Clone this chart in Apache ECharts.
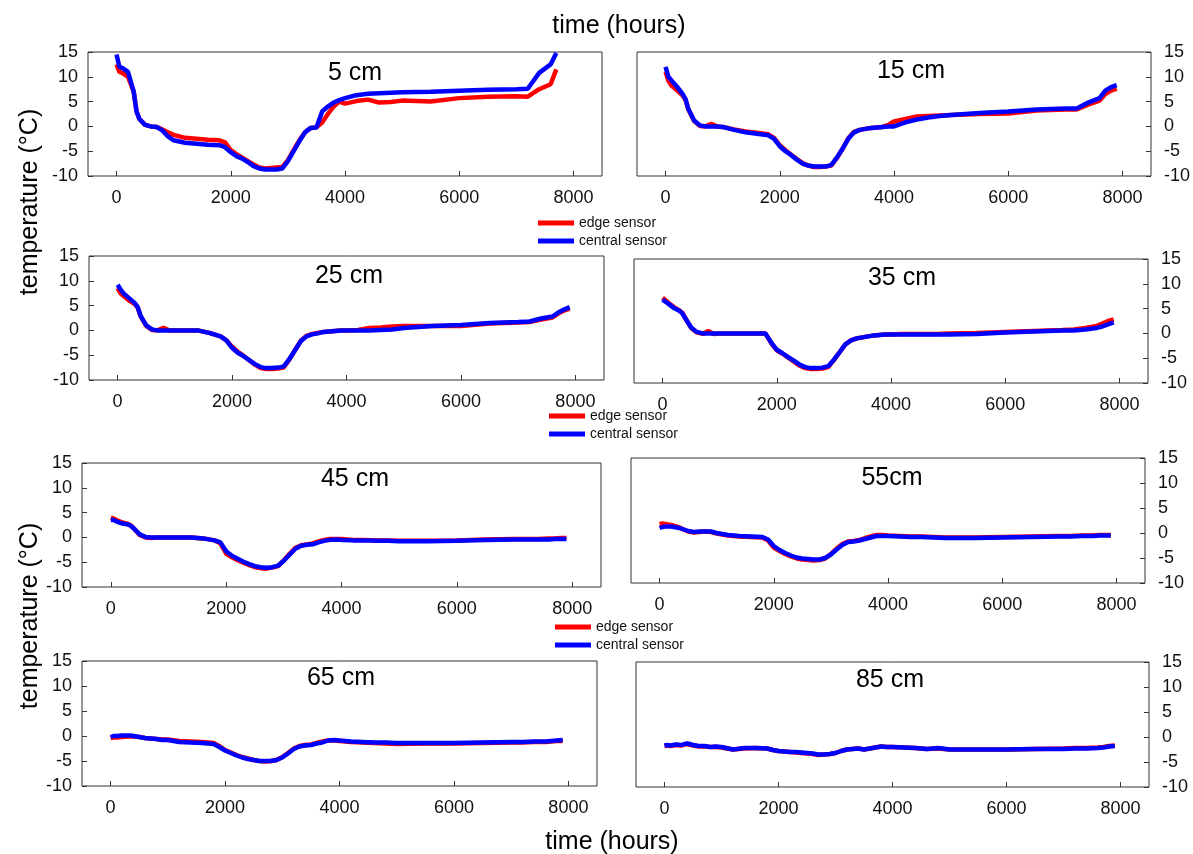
<!DOCTYPE html>
<html>
<head>
<meta charset="utf-8">
<script src="https://cdn.jsdelivr.net/npm/echarts@6.0.0/dist/echarts.min.js"></script>
<style>
html,body{margin:0;padding:0;background:#fff;}
#chart{width:1193px;height:854px;}
</style>
</head>
<body>
<div id="chart"></div>
<script>
// ---- data ----
const hours = [0,50,100,200,300,350,400,500,600,700,800,900,1000,1200,1400,1600,1800,1900,2000,2100,2200,2300,2400,2500,2600,2700,2800,2900,3000,3100,3200,3300,3400,3500,3600,3700,3800,3900,4000,4200,4400,4600,4800,5000,5500,6000,6500,7000,7200,7400,7600,7700,7800,7900];

const xTicks = [0, 2000, 4000, 6000, 8000];
const depthLabels = ['5 cm','15 cm','25 cm','35 cm','45 cm','55cm','65 cm','85 cm'];
const seriesNames = ['edge sensor','central sensor'];

const edge5 = [12.5,11,10.8,10,7,3,1.5,0.3,0,-0.1,-0.6,-1.2,-1.7,-2.3,-2.5,-2.7,-2.8,-3.2,-4.8,-5.6,-6.3,-7,-7.7,-8.3,-8.5,-8.4,-8.3,-8.2,-6.8,-4.8,-2.8,-1.2,-0.3,-0.2,0.8,2.5,4,5,4.6,5.1,5.4,4.8,4.9,5.2,5.0,5.7,6.0,6.1,6.0,7.5,8.5,11.5,null,null];
const central5 = [14.5,12,11.8,11,7,3,1.5,0.3,0,-0.1,-0.8,-2,-2.8,-3.3,-3.5,-3.7,-3.8,-4.2,-5.2,-6,-6.5,-7.2,-8,-8.5,-8.7,-8.7,-8.7,-8.5,-7,-5,-3,-1.2,-0.3,-0.2,3,4,4.8,5.3,5.7,6.3,6.6,6.7,6.8,6.9,7.0,7.2,7.4,7.5,7.6,10.8,12.5,14.8,null,null];

const edge15 = [11,9.2,8.3,7.3,6.2,5.3,3.4,1.1,0.1,0,0.5,0,-0.1,-0.6,-1.0,-1.3,-1.6,-2.3,-3.8,-4.8,-5.7,-6.6,-7.4,-7.9,-8.2,-8.2,-8.1,-7.9,-6.4,-4.5,-2.4,-1.1,-0.7,-0.5,-0.3,-0.2,-0.1,0.3,1.0,1.5,2.0,2.1,2.2,2.3,2.5,2.6,3.2,3.4,3.4,4.4,5.2,6.5,7.2,7.6];
const central15 = [12,10,9.3,8,6.5,5.5,3.5,1.2,0.2,0,0,0,-0.1,-0.7,-1.2,-1.5,-1.8,-2.5,-4,-5,-5.8,-6.7,-7.5,-7.9,-8.1,-8.1,-8.1,-7.8,-6.3,-4.5,-2.5,-1.2,-0.7,-0.5,-0.3,-0.2,-0.1,0,0,0.8,1.4,1.8,2.1,2.3,2.7,3.0,3.4,3.6,3.6,4.8,5.7,7.2,7.9,8.3];

const edge25 = [8.5,7.5,7,6,5.3,4.6,2.9,0.9,0.1,0,0.5,0,0,0,0,-0.5,-1.2,-2,-3.3,-4.3,-5.1,-6,-6.9,-7.6,-7.8,-7.8,-7.7,-7.5,-5.9,-4,-2.1,-1.1,-0.7,-0.5,-0.3,-0.2,-0.1,0,0,0.1,0.5,0.6,0.8,0.9,0.9,0.9,1.4,1.6,1.7,2.2,2.6,3.4,4.0,4.4];
const central25 = [9.2,8.3,7.5,6.5,5.5,4.7,3,1,0.2,0,0,0,0,0,0,-0.5,-1.2,-2,-3.5,-4.5,-5.2,-6,-6.8,-7.4,-7.6,-7.6,-7.5,-7.3,-5.8,-4,-2.2,-1.2,-0.8,-0.6,-0.3,-0.2,-0.1,0,0,0,0,0.1,0.2,0.5,0.9,1.1,1.5,1.7,1.8,2.4,2.8,3.6,4.2,4.7];

const edge35 = [7.2,6.7,6.2,5.3,4.6,4.1,3.1,1.1,0.2,-0.1,0.5,-0.1,0,0,0,0,0,-1.9,-3.4,-4.1,-4.9,-5.7,-6.5,-7,-7.2,-7.2,-7.1,-6.8,-5.4,-3.8,-2.2,-1.4,-1.0,-0.8,-0.6,-0.4,-0.3,-0.2,-0.2,-0.1,-0.1,-0.1,-0.1,0,0.1,0.3,0.5,0.7,0.8,1.1,1.5,2.0,2.5,2.8];
const central35 = [6.8,6.4,6,5.1,4.5,4,3,1.2,0.3,0,0,0,0,0,0,0,0,-1.8,-3.3,-4,-4.8,-5.5,-6.3,-6.8,-7,-7,-6.9,-6.6,-5.3,-3.8,-2.2,-1.4,-1.0,-0.8,-0.6,-0.4,-0.3,-0.2,-0.2,-0.2,-0.2,-0.2,-0.2,-0.2,-0.1,0.2,0.4,0.6,0.6,0.8,1.1,1.4,1.8,2.2];

const edge45 = [4.0,3.8,3.5,3.0,2.7,2.4,1.8,0.5,0,-0.1,0,0,0,0,0,-0.2,-0.6,-1.2,-3.3,-4.0,-4.6,-5.1,-5.6,-6.0,-6.2,-6.3,-6.1,-5.8,-4.6,-3.3,-2.1,-1.6,-1.4,-1.2,-0.8,-0.5,-0.3,-0.3,-0.3,-0.5,-0.5,-0.6,-0.6,-0.7,-0.7,-0.6,-0.4,-0.3,-0.3,-0.3,-0.2,-0.2,-0.1,-0.1];
const central45 = [3.5,3.5,3.2,2.8,2.6,2.3,1.8,0.6,0.1,0,0,0,0,0,0,-0.2,-0.6,-1,-2.8,-3.7,-4.3,-4.9,-5.4,-5.8,-6,-6.1,-6,-5.7,-4.7,-3.5,-2.3,-1.7,-1.5,-1.4,-1.0,-0.7,-0.5,-0.4,-0.5,-0.6,-0.6,-0.7,-0.7,-0.8,-0.8,-0.7,-0.5,-0.4,-0.4,-0.4,-0.4,-0.3,-0.3,-0.3];

const edge55 = [1.8,1.9,1.8,1.6,1.3,1.1,0.8,0.3,0.1,0.2,0.3,0.2,-0.1,-0.5,-0.7,-0.8,-0.9,-1.5,-2.9,-3.6,-4.2,-4.7,-5.1,-5.3,-5.4,-5.5,-5.4,-5.1,-4.2,-3.1,-2.2,-1.7,-1.6,-1.4,-1.0,-0.7,-0.4,-0.4,-0.5,-0.6,-0.7,-0.7,-0.8,-0.9,-0.9,-0.8,-0.7,-0.6,-0.6,-0.5,-0.5,-0.4,-0.4,-0.4];
const central55 = [1,1.2,1.3,1.3,1.1,1.0,0.8,0.4,0.2,0.3,0.3,0.3,0,-0.4,-0.6,-0.7,-0.8,-1.3,-2.6,-3.4,-4,-4.5,-4.9,-5.1,-5.2,-5.3,-5.3,-5,-4.3,-3.3,-2.4,-1.8,-1.7,-1.5,-1.2,-0.9,-0.6,-0.6,-0.6,-0.7,-0.8,-0.8,-0.9,-1.0,-1.0,-0.9,-0.8,-0.7,-0.7,-0.6,-0.6,-0.5,-0.5,-0.5];

const edge65 = [-0.4,-0.3,-0.3,-0.2,-0.1,-0.1,-0.1,-0.2,-0.4,-0.5,-0.6,-0.7,-0.7,-1.0,-1.1,-1.2,-1.4,-2.0,-2.8,-3.3,-3.8,-4.2,-4.5,-4.8,-5.0,-5.1,-5.0,-4.8,-4.2,-3.4,-2.5,-2.0,-1.8,-1.7,-1.4,-1.1,-0.9,-0.9,-1.0,-1.2,-1.3,-1.4,-1.5,-1.6,-1.5,-1.5,-1.4,-1.3,-1.3,-1.2,-1.2,-1.1,-1.0,-1.0];
const central65 = [-0.2,0,0,0.1,0.1,0.1,0,-0.2,-0.4,-0.5,-0.6,-0.8,-0.8,-1.2,-1.3,-1.4,-1.6,-2.2,-2.9,-3.4,-3.9,-4.3,-4.6,-4.8,-5.0,-5.0,-5.0,-4.8,-4.3,-3.5,-2.6,-2.1,-1.9,-1.8,-1.5,-1.3,-0.9,-0.8,-0.9,-1.1,-1.2,-1.3,-1.3,-1.4,-1.4,-1.4,-1.3,-1.2,-1.2,-1.1,-1.1,-1.0,-0.9,-0.8];

const edge85 = [-1.8,-1.7,-1.8,-1.6,-1.7,-1.5,-1.4,-1.7,-1.9,-1.9,-2.0,-2.0,-2.1,-2.5,-2.3,-2.2,-2.3,-2.6,-2.8,-2.9,-3.0,-3.1,-3.2,-3.3,-3.4,-3.6,-3.5,-3.4,-3.2,-2.8,-2.5,-2.4,-2.3,-2.5,-2.3,-2.1,-1.9,-2.0,-2.0,-2.1,-2.2,-2.4,-2.3,-2.5,-2.5,-2.5,-2.4,-2.3,-2.2,-2.2,-2.1,-2.0,-1.8,-1.7];
const central85 = [-1.7,-1.6,-1.7,-1.5,-1.6,-1.4,-1.3,-1.6,-1.8,-1.8,-2.0,-1.9,-2.0,-2.5,-2.2,-2.2,-2.3,-2.6,-2.8,-2.9,-3.0,-3.0,-3.1,-3.2,-3.3,-3.5,-3.5,-3.4,-3.2,-2.8,-2.5,-2.4,-2.3,-2.5,-2.3,-2.1,-1.9,-2.0,-2.0,-2.1,-2.2,-2.4,-2.2,-2.5,-2.5,-2.5,-2.4,-2.4,-2.3,-2.3,-2.2,-2.1,-1.9,-1.8];

const edgeSets = [edge5, edge15, edge25, edge35, edge45, edge55, edge65, edge85];
const centralSets = [central5, central15, central25, central35, central45, central55, central65, central85];

// ---- layout ----
const FONT = '"Liberation Sans", Arial, Helvetica, sans-serif';
const panels = [
  {left: 88,  top: 52,  width: 514, height: 124, side: 'left',  tx: 355, ty: 73},
  {left: 637, top: 52,  width: 514, height: 124, side: 'right', tx: 911, ty: 71},
  {left: 89,  top: 256, width: 515, height: 124, side: 'left',  tx: 349, ty: 276},
  {left: 634, top: 259, width: 514, height: 124, side: 'right', tx: 902, ty: 278},
  {left: 82,  top: 463, width: 519, height: 124, side: 'left',  tx: 355, ty: 479},
  {left: 631, top: 458, width: 514, height: 125, side: 'right', tx: 892, ty: 478},
  {left: 82,  top: 661, width: 515, height: 125, side: 'left',  tx: 341, ty: 678},
  {left: 636, top: 662, width: 513, height: 125, side: 'right', tx: 890, ty: 680}
];

const grids = [], xAxes = [], yAxes = [], series = [], graphics = [];
panels.forEach((p, i) => {
  grids.push({left: p.left, top: p.top, width: p.width, height: p.height,
    show: true, borderColor: '#333', borderWidth: 1, backgroundColor: 'transparent', containLabel: false});
  xAxes.push({type: 'value', gridIndex: i, min: -500, max: 8500, position: 'bottom',
    splitLine: {show: false}, axisLine: {show: false, onZero: false},
    axisTick: {inside: true, length: 5, customValues: xTicks, lineStyle: {color: '#333'}},
    axisLabel: {customValues: xTicks, formatter: v => String(v), fontSize: 18, color: '#111', margin: 13, fontFamily: FONT}});
  yAxes.push({type: 'value', gridIndex: i, min: -10, max: 15, interval: 5, position: p.side,
    splitLine: {show: false}, axisLine: {show: false, onZero: false},
    axisTick: {inside: true, length: 5, lineStyle: {color: '#333'}},
    axisLabel: {formatter: v => String(v), fontSize: 18, color: '#111', margin: p.side === 'left' ? 10 : 13, fontFamily: FONT}});
  series.push({name: seriesNames[0], type: 'line', xAxisIndex: i, yAxisIndex: i,
    data: hours.map((h, k) => [h, edgeSets[i][k]]), showSymbol: false, symbol: 'none',
    lineStyle: {color: '#ff0000', width: 4.5}, itemStyle: {color: '#ff0000'}, z: 2});
  series.push({name: seriesNames[1], type: 'line', xAxisIndex: i, yAxisIndex: i,
    data: hours.map((h, k) => [h, centralSets[i][k]]), showSymbol: false, symbol: 'none',
    lineStyle: {color: '#0000ff', width: 4.5}, itemStyle: {color: '#0000ff'}, z: 3});
  graphics.push({type: 'text', x: p.tx, y: p.ty,
    style: {text: depthLabels[i], fill: '#000', font: '25px ' + FONT, align: 'center', verticalAlign: 'middle'}});
});

graphics.push({type: 'text', x: 619, y: 26, style: {text: 'time (hours)', fill: '#000', font: '25px ' + FONT, align: 'center', verticalAlign: 'middle'}});
graphics.push({type: 'text', x: 612, y: 842, style: {text: 'time (hours)', fill: '#000', font: '25px ' + FONT, align: 'center', verticalAlign: 'middle'}});
graphics.push({type: 'text', x: 30, y: 202, rotation: Math.PI / 2, style: {text: 'temperature (°C)', fill: '#000', font: '25px ' + FONT, align: 'center', verticalAlign: 'middle'}});
graphics.push({type: 'text', x: 30, y: 616, rotation: Math.PI / 2, style: {text: 'temperature (°C)', fill: '#000', font: '25px ' + FONT, align: 'center', verticalAlign: 'middle'}});

const legendPos = [[538, 216], [549, 409], [555, 620]];
const legends = legendPos.map(([l, t]) => ({
  data: seriesNames, orient: 'vertical', left: l, top: t, padding: 0,
  itemWidth: 36, itemHeight: 5, itemGap: 4, icon: 'rect', selectedMode: false,
  textStyle: {fontSize: 14, color: '#111', fontFamily: FONT}
}));

const chart = echarts.init(document.getElementById('chart'), null, {renderer: 'canvas'});
chart.setOption({
  animation: false,
  backgroundColor: '#fff',
  grid: grids, xAxis: xAxes, yAxis: yAxes, series: series,
  legend: legends, graphic: graphics
});
</script>
</body>
</html>
